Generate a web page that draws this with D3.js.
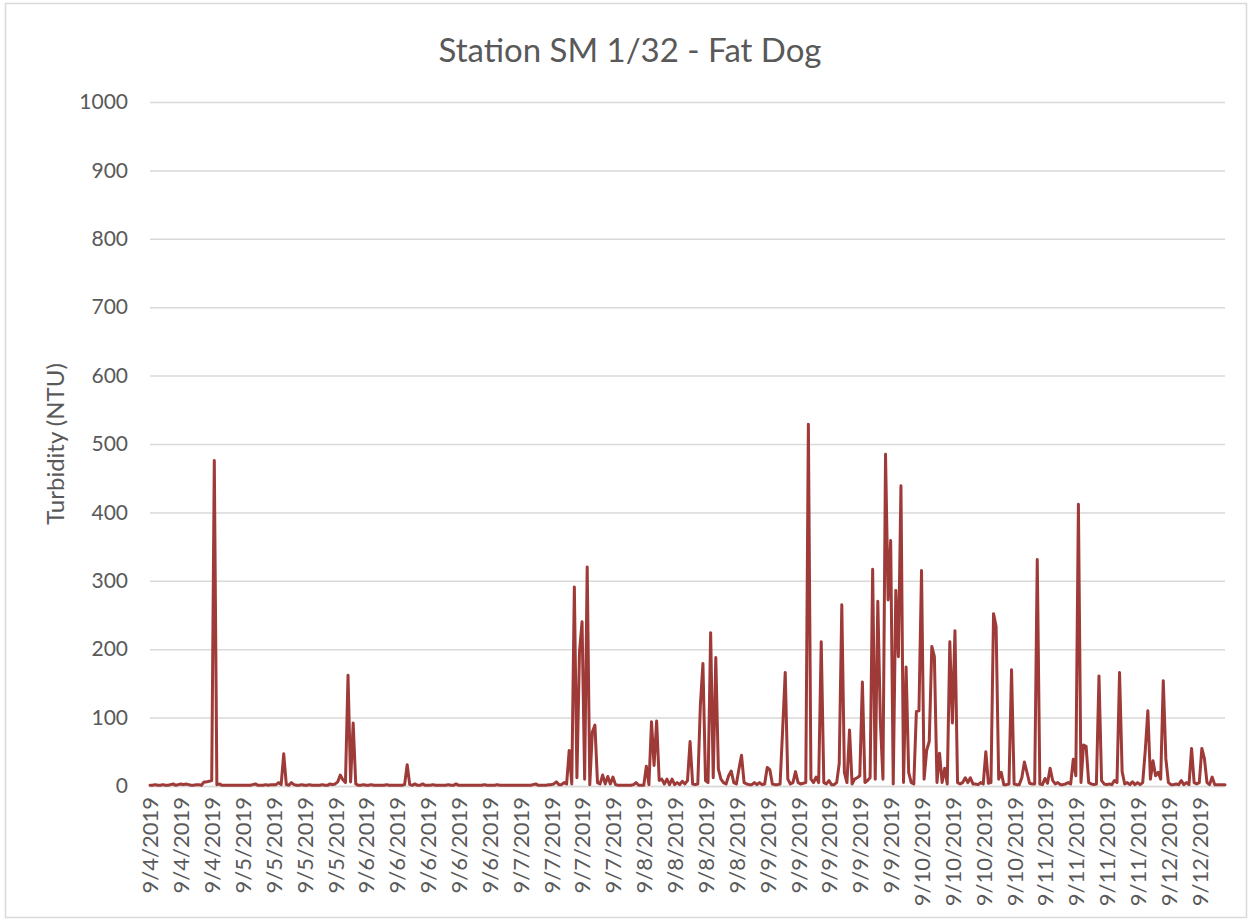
<!DOCTYPE html>
<html>
<head>
<meta charset="utf-8">
<script src="https://cdn.jsdelivr.net/npm/d3@7/dist/d3.min.js"></script>
<style>
  html, body { margin: 0; padding: 0; background: #ffffff; }
  svg { display: block; }
</style>
</head>
<body>
<svg id="chart" width="1252" height="922"></svg>
<script>
// ---------- DATA ----------
const chartTitle = "Station SM 1/32 - Fat Dog";
const yAxisTitle = "Turbidity (NTU)";

// x-axis tick labels, one every 12 readings
const tickLabels = [
  "9/4/2019", "9/4/2019", "9/4/2019",
  "9/5/2019", "9/5/2019", "9/5/2019", "9/5/2019",
  "9/6/2019", "9/6/2019", "9/6/2019", "9/6/2019", "9/6/2019",
  "9/7/2019", "9/7/2019", "9/7/2019", "9/7/2019",
  "9/8/2019", "9/8/2019", "9/8/2019", "9/8/2019",
  "9/9/2019", "9/9/2019", "9/9/2019", "9/9/2019", "9/9/2019",
  "9/10/2019", "9/10/2019", "9/10/2019", "9/10/2019",
  "9/11/2019", "9/11/2019", "9/11/2019", "9/11/2019",
  "9/12/2019", "9/12/2019"
];
const labelEvery = 12;

const yTicks = [0, 100, 200, 300, 400, 500, 600, 700, 800, 900, 1000];

// Turbidity readings (NTU), 12 readings per labelled interval
const turbidity = [
  1,1,2,1,1,2,1,1,2,3,1,2,
  3,2,3,2,1,1,2,2,1,6,6,7,
  8,476,2,3,1,1,1,1,1,1,1,1,
  1,1,1,1,2,3,1,1,1,2,1,2,
  2,2,5,2,47,2,1,5,2,1,1,2,
  1,1,2,1,1,1,1,2,1,1,3,2,
  3,6,16,9,5,162,6,92,3,1,1,2,
  1,1,2,1,1,1,1,1,2,1,1,1,
  1,1,1,2,31,2,1,3,1,1,3,1,
  1,1,2,1,1,1,1,1,2,1,1,3,
  1,1,1,1,1,1,1,1,1,1,2,1,
  1,1,1,2,1,1,1,1,1,1,1,1,
  1,1,1,1,1,2,3,1,1,1,1,2,
  2,3,6,2,2,5,3,52,3,291,12,196,
  240,10,320,2,79,89,5,3,16,3,14,3,
  13,2,1,1,1,1,1,1,2,5,1,1,
  1,29,2,94,30,95,8,10,3,10,2,10,
  2,5,2,7,3,8,65,3,2,3,118,179,
  8,5,224,12,188,25,10,5,3,15,22,5,
  3,25,45,5,3,2,2,5,2,5,2,3,
  27,24,3,2,2,3,83,166,10,3,5,21,
  5,3,4,5,529,10,5,13,5,211,5,3,
  8,2,2,5,33,265,20,5,82,3,10,12,
  15,152,5,8,12,317,10,270,94,10,485,272,
  359,3,286,189,439,5,174,20,5,3,109,110,
  315,10,52,65,204,189,5,48,5,26,3,211,
  92,227,5,3,5,12,5,12,3,3,2,5,
  3,50,4,5,252,233,10,20,2,2,3,170,
  3,2,2,12,35,20,4,3,3,331,3,2,
  11,4,26,8,3,5,2,2,3,5,3,39,
  15,412,5,60,58,5,3,2,3,161,8,3,
  2,3,2,8,5,166,21,3,5,2,6,2,
  5,2,5,52,110,10,37,15,20,10,154,40,
  5,2,2,3,2,8,2,5,2,55,5,3,
  5,55,40,5,2,13,2,2,2,2,2
];

// ---------- DRAWING ----------
const W = 1252, H = 922;
const plot = { left: 150, right: 1225, top: 102, bottom: 786 };
const fontFamily = "Lato, 'Open Sans', 'Liberation Sans', sans-serif";
const textColor = "#595959";
const gridColor = "#d9d9d9";
const lineColor = "#9e3a37";

const svg = d3.select("#chart");

// outer chart border
svg.append("rect")
  .attr("x", 5.5).attr("y", 3.5)
  .attr("width", W - 11).attr("height", H - 8)
  .attr("fill", "#ffffff")
  .attr("stroke", gridColor)
  .attr("stroke-width", 1.5);

const x = d3.scaleLinear()
  .domain([0, turbidity.length - 1])
  .range([plot.left, plot.right]);

const y = d3.scaleLinear()
  .domain([0, 1000])
  .range([plot.bottom, plot.top]);

// y axis with gridlines
const yAxis = d3.axisLeft(y)
  .tickValues(yTicks)
  .tickSize(-(plot.right - plot.left))
  .tickPadding(22)
  .tickFormat(d3.format("d"));

const gy = svg.append("g")
  .attr("transform", `translate(${plot.left},0)`)
  .call(yAxis);
gy.select(".domain").remove();
gy.selectAll(".tick line")
  .attr("stroke", gridColor)
  .attr("stroke-width", 1.5);
gy.selectAll(".tick text")
  .attr("fill", textColor)
  .style("font-family", fontFamily)
  .style("font-size", "21px");

// x axis (category labels every 12 readings)
const labelIdx = tickLabels.map((_, j) => j * labelEvery);
const xAxis = d3.axisBottom(x)
  .tickValues(labelIdx)
  .tickSize(0)
  .tickFormat((d, j) => tickLabels[j]);

const gx = svg.append("g")
  .attr("transform", `translate(0,${plot.bottom})`)
  .call(xAxis);
gx.select(".domain")
  .attr("stroke", gridColor)
  .attr("stroke-width", 1.5);
gx.selectAll(".tick text")
  .attr("fill", textColor)
  .style("font-family", fontFamily)
  .style("font-size", "22px")
  .attr("text-anchor", "end")
  .attr("transform", "rotate(-90)")
  .attr("x", -11)
  .attr("y", 0)
  .attr("dy", "0.36em");

// data line
const line = d3.line()
  .x((d, i) => x(i))
  .y(d => y(d));

svg.append("path")
  .datum(turbidity)
  .attr("fill", "none")
  .attr("stroke", lineColor)
  .attr("stroke-width", 3)
  .attr("stroke-linejoin", "round")
  .attr("stroke-linecap", "round")
  .attr("d", line);

// title
svg.append("text")
  .attr("x", 630)
  .attr("y", 62)
  .attr("text-anchor", "middle")
  .attr("fill", textColor)
  .style("font-family", fontFamily)
  .style("font-size", "33px")
  .text(chartTitle);

// y axis title
svg.append("text")
  .attr("transform", `translate(64,444) rotate(-90)`)
  .attr("text-anchor", "middle")
  .attr("fill", textColor)
  .style("font-family", fontFamily)
  .style("font-size", "24px")
  .text(yAxisTitle);
</script>
</body>
</html>
